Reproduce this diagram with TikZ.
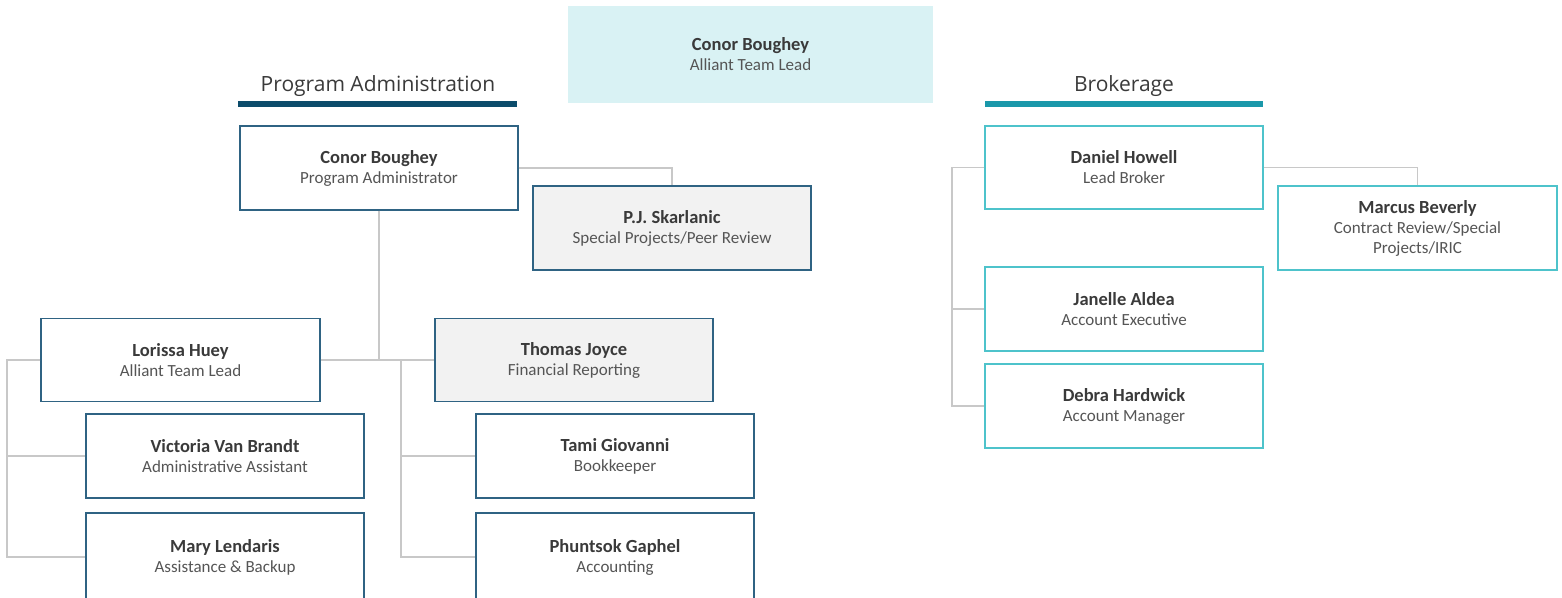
\documentclass[tikz,border=0pt]{standalone}
\usepackage{fontspec}
\setmainfont{Carlito}
\newfontfamily\headfont{Open Sans}
\usetikzlibrary{positioning}
\definecolor{paBlue}{HTML}{2F6383}
\definecolor{brTeal}{HTML}{4EC3CB}
\definecolor{barBlue}{HTML}{0C4C6B}
\definecolor{barTeal}{HTML}{1A98AA}
\definecolor{topCyan}{HTML}{D9F2F4}
\definecolor{boxGrey}{HTML}{F2F2F2}
\definecolor{linkGrey}{HTML}{C8C8C8}
\definecolor{nameGrey}{HTML}{3A3A3A}
\definecolor{roleGrey}{HTML}{555555}
\newcommand{\person}[2]{{\fontsize{18.5}{20}\selectfont\bfseries\color{nameGrey}#1}\\#2}
\tikzstyle{card}=[font=\fontsize{17}{20}\selectfont,text=roleGrey,inner sep=0pt,align=center]
\tikzstyle{pabox}=[card,draw=paBlue,line width=1.3pt,fill=white,minimum width=278pt,
                minimum height=84pt]
\tikzstyle{grey box}=[pabox,fill=boxGrey]
\tikzstyle{brbox}=[pabox,draw=brTeal]
\tikzstyle{heading}=[font=\headfont\fontsize{21}{24}\selectfont,text=nameGrey,inner sep=0pt]
\tikzstyle{link}=[draw=linkGrey,line width=1.5pt]

\begin{document}
\begin{tikzpicture}[x=1pt,y=-1pt]
  \useasboundingbox (0,0) rectangle (1562,597);
  % top lead
  \node[card,fill=topCyan,minimum width=365pt,minimum height=97pt]
    (lead) at (750.5,54) {\person{Conor Boughey}{Alliant Team Lead}};
  % section headings
  \node[heading] (paHead) at (378,86) {Program Administration};
  \node[heading] (brHead) at (1124,86) {Brokerage};
  \fill[barBlue] (238,101) rectangle (517,107);
  \fill[barTeal] (985,101) rectangle (1263,107);
  % program administration
  \node[pabox] (cbPA) at (379,168) {\person{Conor Boughey}{Program Administrator}};
  \node[grey box] (pj) at (672,228) {\person{P.J. Skarlanic}{Special Projects/Peer Review}};
  \node[pabox,minimum width=279pt,minimum height=83pt] (lorissa) at (180.5,360) {\person{Lorissa Huey}{Alliant Team Lead}};
  \node[grey box,minimum height=83pt] (thomas) at (574,360) {\person{Thomas Joyce}{Financial Reporting}};
  \node[pabox] (victoria) at (225,456) {\person{Victoria Van Brandt}{Administrative Assistant}};
  \node[pabox] (tami) at (615,456) {\person{Tami Giovanni}{Bookkeeper}};
  \node[pabox,minimum height=88pt] (mary) at (225,557) {\person{Mary Lendaris}{Assistance \& Backup}};
  \node[pabox,minimum height=88pt] (phuntsok) at (615,557) {\person{Phuntsok Gaphel}{Accounting}};
  % brokerage
  \node[brbox,minimum height=83pt] (daniel) at (1124,167.5) {\person{Daniel Howell}{Lead Broker}};
  \node[brbox,minimum width=279pt] (marcus) at (1417.5,228) {\person{Marcus Beverly}{Contract Review/Special\\Projects/IRIC}};
  \node[brbox] (janelle) at (1124,309) {\person{Janelle Aldea}{Account Executive}};
  \node[brbox] (debra) at (1124,406) {\person{Debra Hardwick}{Account Manager}};
  % connectors
  \coordinate (lBus) at (7,360);
  \coordinate (rBus) at (401,360);
  \coordinate (bBus) at (952,167.5);
  \draw[link] (cbPA.east) -| (pj.north);
  \draw[link] (cbPA.south) -- (cbPA.south |- lorissa.east);
  \draw[link] (lorissa.east) -- (thomas.west);
  \draw[link] (lorissa.west) -- (lBus) |- (mary.west);
  \draw[link] (lBus |- victoria.west) -- (victoria.west);
  \draw[link] (rBus) |- (phuntsok.west);
  \draw[link] (rBus |- tami.west) -- (tami.west);
  \draw[link] (daniel.east) -| (marcus.north);
  \draw[link] (daniel.west) -- (bBus) |- (debra.west);
  \draw[link] (bBus |- janelle.west) -- (janelle.west);
\end{tikzpicture}
\end{document}
